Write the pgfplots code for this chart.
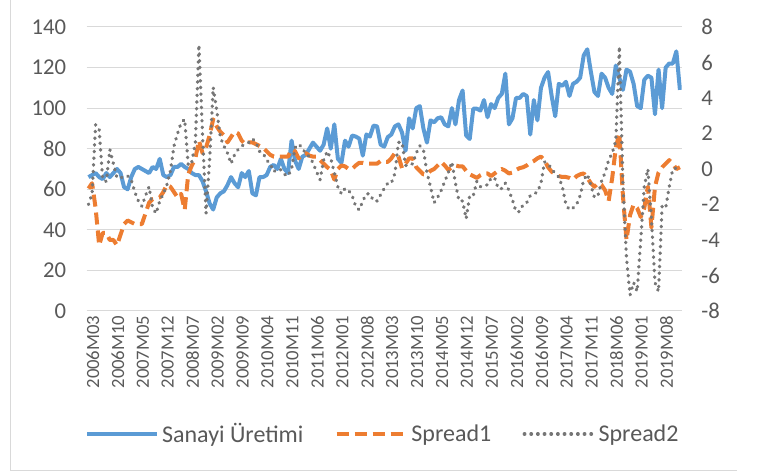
\documentclass[border=0pt]{standalone}
\usepackage{fontspec}
\setmainfont{Carlito}
\usepackage{pgfplots}
\usepackage{pgfplotstable}
\pgfplotsset{compat=1.18}
\definecolor{cblue}{HTML}{5B9BD5}
\definecolor{corange}{HTML}{ED7D31}
\definecolor{cgray}{HTML}{767676}
\definecolor{ctext}{HTML}{595959}
\definecolor{cgrid}{HTML}{D9D9D9}

\pgfplotstableread{
i b s1 s2
0 66 -1.1 -2.0
1 67 -0.8 -1.4
2 68 -2.2 2.5
3 66 -4.3 2.2
4 65 -3.6 -0.6
5 68 -3.6 -0.7
6 66 -4.0 1.1
7 68 -4.0 0.3
8 70 -4.3 -0.5
9 68 -3.7 -0.5
10 61 -3.1 -0.4
11 60 -2.9 -0.4
12 66 -3.0 -0.6
13 70 -3.1 -1.3
14 71 -3.1 -1.8
15 70 -3.1 -2.1
16 69 -2.5 -1.5
17 68 -1.9 -1.0
18 71 -1.7 -2.2
19 70 -1.65 -2.5
20 75 -1.6 -1.8
21 67 -1.3 -1.4
22 66 -0.9 -0.9
23 67 -1.0 -0.1
24 71 -1.3 1.3
25 71 -1.6 2.0
26 72.5 -1.4 2.6
27 71 -2.3 2.8
28 70 -0.3 0.2
29 68 0.2 0.4
30 67 0.6 1.5
31 67 1.6 7.0
32 64 0.9 2.0
33 59 1.2 -2.5
34 53 1.9 0.5
35 50 2.8 4.6
36 56 2.4 3.3
37 58 2.1 1.8
38 59 1.9 1.3
39 62 1.5 0.9
40 66 1.8 0.3
41 63 2.1 0.8
42 61 2.0 1.1
43 68 1.6 1.3
44 66 1.4 1.4
45 69 1.5 1.5
46 58 1.5 1.7
47 57 1.4 1.5
48 66 1.3 1.0
49 66 1.2 0.9
50 67 1.0 0.5
51 71 0.8 0.3
52 72 0.7 -0.15
53 70 0.7 0.0
54 75 0.7 -0.05
55 70 0.7 -0.3
56 68 0.7 -0.4
57 84 1.1 0.0
58 74 1.0 1.2
59 70 0.6 1.4
60 76 0.8 1.2
61 77 0.9 0.85
62 80 0.75 0.7
63 83 0.7 0.35
64 81 0.7 -0.15
65 79 0.5 -0.6
66 82 0.3 0.5
67 90 0.1 1.0
68 80 -0.05 0.6
69 92 -0.6 -0.2
70 75 0.0 -1.0
71 73 0.2 -1.4
72 84 0.15 -1.1
73 81 0.0 -1.2
74 86.5 0.0 -1.5
75 86 0.2 -2.1
76 85 0.35 -2.3
77 76.6 0.35 -1.8
78 87 0.3 -1.4
79 86 0.3 -1.4
80 91.4 0.3 -1.8
81 91 0.3 -1.8
82 82 0.45 -1.45
83 81 0.4 -1.1
84 85.7 0.4 -0.8
85 87 0.6 -0.8
86 91 0.9 -0.25
87 92 0.7 1.5
88 88 0.05 1.5
89 79 0.3 0.2
90 95 0.6 0.2
91 90 0.6 0.3
92 100 0.1 0.9
93 101 -0.1 1.3
94 90 -0.3 1.1
95 83 -0.3 -0.2
96 94 -0.1 -1.0
97 93 0.0 -1.9
98 95 0.2 -1.6
99 95.5 0.4 -1.2
100 92 0.2 -0.7
101 91 -0.05 -0.2
102 100 0.1 0.4
103 92 0.2 -0.8
104 104 0.15 -1.8
105 108.7 0.15 -1.8
106 86.5 -0.1 -2.8
107 84.8 -0.3 -1.5
108 99.7 -0.4 -1.5
109 99.7 -0.5 -0.7
110 98.8 -0.35 -1.0
111 104 -0.25 -0.9
112 95.5 -0.25 -0.9
113 102 -0.4 -0.5
114 100 -0.25 -0.5
115 105 -0.1 -1.1
116 107 0.0 -1.1
117 117 -0.1 -0.8
118 92 -0.25 -1.2
119 95 -0.2 -1.75
120 105 -0.05 -2.4
121 105 0.05 -2.4
122 107 0.1 -2.0
123 106 0.2 -1.9
124 87 0.35 -1.5
125 104 0.45 -1.4
126 94 0.6 -1.3
127 110 0.7 -0.8
128 115 0.5 0.4
129 117.8 0.1 0.3
130 106 -0.15 0.0
131 96 -0.3 -0.25
132 112 -0.4 -0.45
133 111 -0.45 -1.0
134 113 -0.45 -2.0
135 106 -0.5 -2.3
136 112 -0.6 -2.2
137 113 -0.4 -2.0
138 115 -0.3 -1.5
139 126 -0.25 -0.6
140 129 -0.5 -0.3
141 118 -0.8 -0.9
142 108 -1.0 -1.6
143 106 -0.8 -1.5
144 117 -0.9 -0.7
145 115 -1.2 -0.2
146 110 -1.8 0.5
147 107 -0.5 0.9
148 121 1.2 1.6
149 115 2.0 6.9
150 109 -1.5 -0.8
151 119 -4.0 -5.0
152 118 -2.6 -7.1
153 112 -2.0 -6.4
154 101 -2.2 -6.9
155 100 -2.7 -4.0
156 114 -2.2 -1.0
157 116 -1.0 0.0
158 115 -3.3 -2.8
159 97 -1.0 -6.4
160 119 -0.2 -6.9
161 100 0.1 -2.1
162 120 0.3 -2.2
163 122 0.5 -1.0
164 122 0.3 0.0
165 128 0.0 0.05
166 109 0.1 0.0
}\data

\begin{document}
\begin{tikzpicture}
\path[use as bounding box] (0pt,0pt) rectangle (570.75pt,355.5pt);
\draw[cgrid, line width=0.75pt] (8.025pt,355.5pt) -- (8.025pt,2.25pt) -- (552.75pt,2.25pt);
\begin{axis}[
  at={(65.025pt,122.25pt)}, anchor=south west,
  scale only axis, width=446.25pt, height=213pt,
  xmin=-0.5, xmax=166.5, ymin=0, ymax=140,
  ytick={0,20,...,140}, yticklabels={0,20,40,60,80,100,120,140},
  xtick={0,7,...,161},
  xticklabels={2006M03,2006M10,2007M05,2007M12,2008M07,2009M02,2009M09,2010M04,2010M11,2011M06,2012M01,2012M08,2013M03,2013M10,2014M05,2014M12,2015M07,2016M02,2016M09,2017M04,2017M11,2018M06,2019M01,2019M08},
  ymajorgrids, grid style={cgrid, line width=0.75pt},
  axis line style={draw=none}, major tick length=0pt,
  x tick label style={rotate=90, anchor=east, font=\fontsize{14}{16}\selectfont, text=ctext, yshift=-3.3pt},
  y tick label style={font=\fontsize{17}{20}\selectfont, text=ctext, xshift=-12pt},
]
\addplot[cblue, line width=3pt, line join=round] table[x=i, y=b] {\data};
\end{axis}
\begin{axis}[
  at={(65.025pt,122.25pt)}, anchor=south west,
  scale only axis, width=446.25pt, height=213pt,
  xmin=-0.5, xmax=166.5, ymin=-8, ymax=8,
  axis x line=none, axis y line*=right,
  ytick={-8,-6,...,8}, yticklabels={-8,-6,-4,-2,0,2,4,6,8},
  axis line style={draw=none}, major tick length=0pt,
  y tick label style={font=\fontsize{17}{20}\selectfont, text=ctext, xshift=11.3pt},
  legend columns=3,
  legend style={at={(0.4985,-0.433)}, anchor=center, draw=none, fill=none,
    font=\fontsize{18}{21}\selectfont, text=ctext,
    /tikz/every even column/.append style={column sep=21.5pt}},
  legend image code/.code={\draw[#1] (0pt,0pt) -- (52.5pt,0pt);},
]
\addlegendimage{cblue, line width=3pt}
\addlegendentry{Sanayi Üretimi}
\addplot[corange, line width=3pt, dash pattern=on 9pt off 4.5pt, line join=round] table[x=i, y=s1] {\data};
\addlegendentry{Spread1}
\addplot[cgray, line width=2.5pt, line cap=round, dash pattern=on 0.4pt off 4.6pt, line join=round] table[x=i, y=s2] {\data};
\addlegendentry{Spread2}
\end{axis}
\end{tikzpicture}
\end{document}
